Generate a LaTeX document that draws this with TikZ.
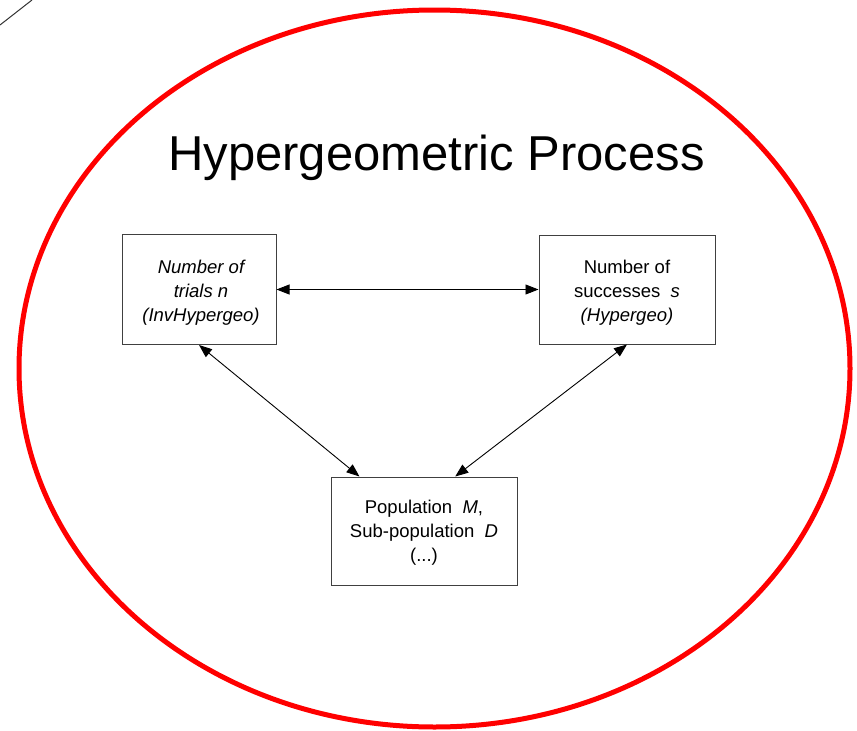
\documentclass[tikz,border=0pt]{standalone}
\usepackage{fontspec}
\setmainfont{Liberation Sans}
\usetikzlibrary{arrows.meta,calc}
\begin{document}
\begin{tikzpicture}[x=1pt,y=-1pt,
  varbox/.style={draw=black!75,line width=1pt,fill=white,inner sep=0pt},
  vartext/.style={inner sep=0pt,align=center,font=\fontsize{18.5}{24}\selectfont},
  link/.style={line width=0.9pt,{Triangle[length=13pt,width=10pt]}-{Triangle[length=13pt,width=10pt]}}]
\useasboundingbox (0,0) rectangle (857,731);
% process boundary
\draw[red,line width=5pt] (434.5,368.5) ellipse [x radius=415.5,y radius=358.5];
% stray corner stroke
\coordinate (c1) at (0,25);
\coordinate (c2) at (32,0);
\draw[black!80,line width=1pt] (c1) -- (c2);
% title
\node[anchor=base,font=\fontsize{49}{58}\selectfont] (title) at (436.5,170) {Hypergeometric Process};
% variable boxes
\node[varbox,minimum width=154pt,minimum height=110pt] (L) at (199,289.5) {};
\node[varbox,minimum width=176pt,minimum height=109pt] (R) at (627,289.5) {};
\node[varbox,minimum width=186pt,minimum height=108pt] (B) at (424,531) {};
% box captions
\node[vartext] (Lt) at ($(L.center)+(2,3)$)
  {\itshape Number of\\ \itshape trials n\\ \itshape (InvHypergeo)};
\node[vartext] (Rt) at ($(R.center)+(0,3)$)
  {Number of\\ successes\ \ \textit{s}\\ \textit{(Hypergeo)}};
\node[vartext] (Bt) at ($(B.center)+(0,2)$)
  {Population\ \ \textit{M},\\ Sub-population\ \ \textit{D}\\ (...)};
% relations
\draw[link] (L) -- (R);
\draw[link] (L.south) -- ($(B.north west)!0.155!(B.north east)$);
\draw[link] (R.south) -- ($(B.north west)!0.667!(B.north east)$);
\end{tikzpicture}
\end{document}
